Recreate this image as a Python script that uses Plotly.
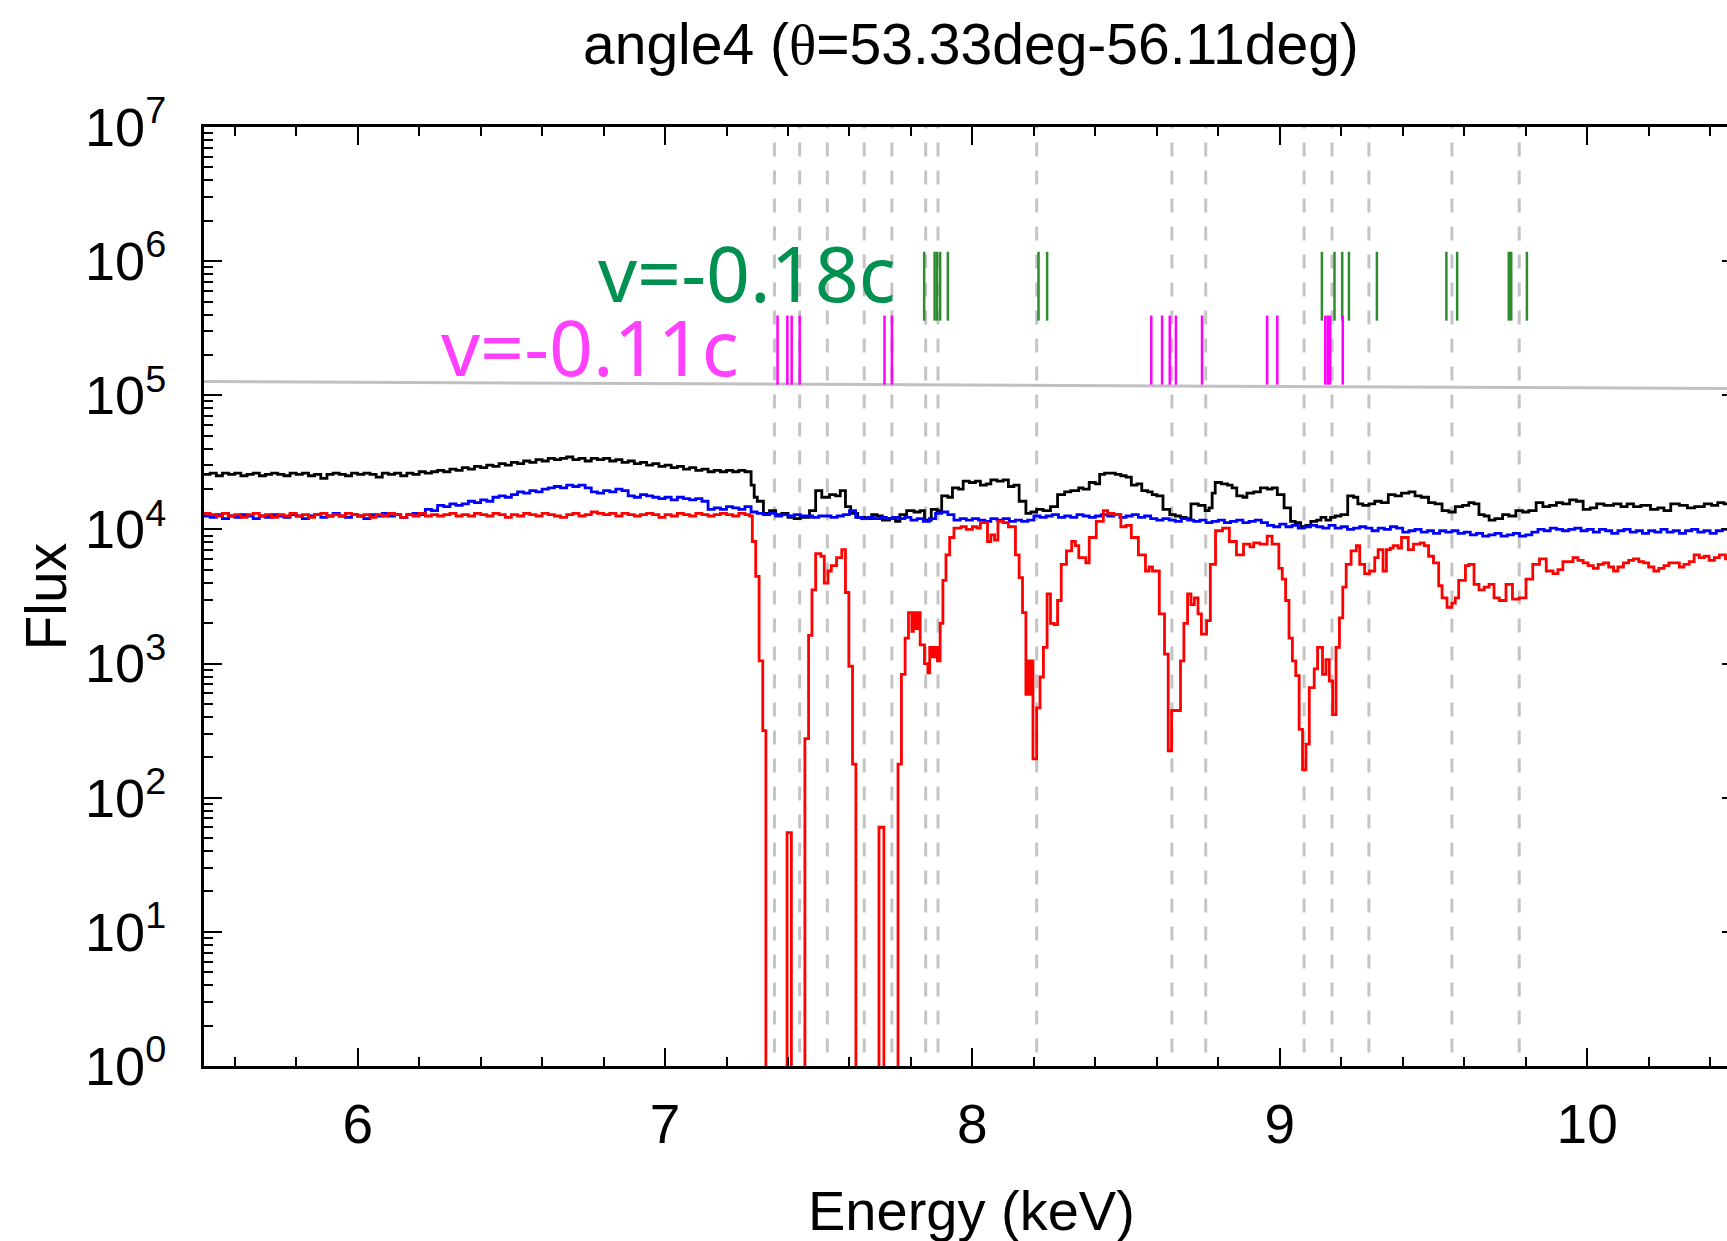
import plotly.graph_objects as go

# ---------------- text ----------------
title_text = "angle4 (<span style='font-family:Liberation Serif'>θ</span>=53.33deg-56.11deg)"
x_title = "Energy (keV)"
y_title = "Flux"
fast_label = "v=-0.18c"
slow_label = "v=-0.11c"

# ---------------- data (bin left edges in keV, log10 flux) ----------------
E_END = 10.47

black_energy = [5.50, 5.52, 5.54, 5.56, 5.58, 5.60, 5.62, 5.64, 5.66, 5.68, 5.70, 5.72, 5.74, 5.76, 5.78,
                5.80, 5.82, 5.84, 5.86, 5.88, 5.90, 5.92, 5.94, 5.96, 5.98, 6.00, 6.02, 6.04, 6.06, 6.08,
                6.10, 6.12, 6.14, 6.16, 6.18, 6.20, 6.22, 6.24, 6.26, 6.28, 6.30, 6.32, 6.34, 6.36, 6.38,
                6.40, 6.42, 6.44, 6.46, 6.48, 6.50, 6.52, 6.54, 6.56, 6.58, 6.60, 6.62, 6.64, 6.66, 6.68,
                6.70, 6.72, 6.74, 6.76, 6.78, 6.80, 6.82, 6.84, 6.86, 6.88, 6.90, 6.92, 6.94, 6.96, 6.98,
                7.00, 7.02, 7.04, 7.06, 7.08, 7.10, 7.12, 7.14, 7.16, 7.18, 7.20, 7.22, 7.24, 7.26, 7.28,
                7.29, 7.30, 7.32, 7.34, 7.36, 7.38, 7.40, 7.42, 7.44, 7.47, 7.49, 7.51, 7.535, 7.555, 7.57,
                7.587, 7.604, 7.627, 7.65, 7.672, 7.69, 7.707, 7.73, 7.75, 7.764, 7.786, 7.81, 7.83, 7.844,
                7.866, 7.885, 7.90, 7.92, 7.935, 7.955, 7.97, 7.99, 8.01, 8.026, 8.045, 8.06, 8.08, 8.10,
                8.117, 8.135, 8.152, 8.174, 8.19, 8.209, 8.23, 8.254, 8.277, 8.30, 8.32, 8.346, 8.36, 8.38,
                8.40, 8.414, 8.43, 8.448, 8.465, 8.483, 8.50, 8.517, 8.535, 8.551, 8.57, 8.585, 8.60, 8.62,
                8.642, 8.66, 8.677, 8.695, 8.711, 8.735, 8.757, 8.77, 8.78, 8.79, 8.81, 8.83, 8.845, 8.86,
                8.88, 8.893, 8.915, 8.937, 8.96, 8.975, 8.992, 9.014, 9.035, 9.05, 9.068, 9.085, 9.101,
                9.12, 9.134, 9.15, 9.165, 9.18, 9.199, 9.221, 9.24, 9.254, 9.27, 9.29, 9.309, 9.33, 9.353,
                9.375, 9.396, 9.42, 9.44, 9.46, 9.484, 9.505, 9.528, 9.55, 9.571, 9.595, 9.615, 9.632,
                9.648, 9.665, 9.681, 9.70, 9.725, 9.745, 9.768, 9.79, 9.81, 9.834, 9.856, 9.878, 9.90,
                9.92, 9.943, 9.965, 9.987, 10.01, 10.031, 10.055, 10.086, 10.11, 10.13, 10.151, 10.175,
                10.206, 10.23, 10.25, 10.272, 10.30, 10.326, 10.35, 10.381, 10.405, 10.425, 10.445]
black_log10_flux = [4.41, 4.42, 4.40, 4.42, 4.41, 4.42, 4.40, 4.41, 4.42, 4.40, 4.41, 4.42, 4.41, 4.40, 4.42,
                    4.41, 4.42, 4.40, 4.41, 4.38, 4.41, 4.42, 4.41, 4.40, 4.42, 4.41, 4.42, 4.41, 4.39, 4.42,
                    4.41, 4.42, 4.40, 4.42, 4.41, 4.43, 4.42, 4.43, 4.44, 4.43, 4.45, 4.44, 4.46, 4.45, 4.47,
                    4.46, 4.48, 4.47, 4.49, 4.48, 4.50, 4.49, 4.51, 4.50, 4.52, 4.51, 4.53, 4.52, 4.53, 4.54,
                    4.52, 4.53, 4.51, 4.53, 4.52, 4.53, 4.51, 4.52, 4.50, 4.51, 4.49, 4.50, 4.48, 4.49, 4.47,
                    4.48, 4.46, 4.47, 4.45, 4.46, 4.44, 4.45, 4.43, 4.44, 4.43, 4.44, 4.43, 4.44, 4.43, 4.33,
                    4.24, 4.21, 4.12, 4.14, 4.11, 4.12, 4.09, 4.08, 4.09, 4.14, 4.29, 4.24, 4.26, 4.25, 4.29,
                    4.17, 4.12, 4.09, 4.08, 4.11, 4.10, 4.07, 4.08, 4.06, 4.11, 4.14, 4.13, 4.14, 4.07,
                    4.15, 4.14, 4.25, 4.24, 4.31, 4.30, 4.36, 4.35, 4.36, 4.33, 4.34, 4.37, 4.36, 4.37,
                    4.32, 4.33, 4.21, 4.12, 4.13, 4.15, 4.14, 4.17, 4.26, 4.28, 4.29, 4.31, 4.30, 4.35,
                    4.34, 4.41, 4.42, 4.42, 4.41, 4.40, 4.39, 4.33, 4.34, 4.29, 4.28, 4.26, 4.25, 4.15,
                    4.11, 4.10, 4.09, 4.08, 4.19, 4.18, 4.14, 4.16, 4.27, 4.35, 4.34, 4.33, 4.31, 4.25,
                    4.24, 4.27, 4.28, 4.31, 4.30, 4.31, 4.26, 4.16, 4.06, 4.05, 4.02, 4.03, 4.06,
                    4.07, 4.09, 4.07, 4.09, 4.10, 4.11, 4.25, 4.24, 4.19, 4.18, 4.19, 4.21, 4.20, 4.26,
                    4.25, 4.27, 4.28, 4.25, 4.24, 4.20, 4.19, 4.14, 4.13, 4.17, 4.18, 4.20, 4.19,
                    4.11, 4.10, 4.07, 4.08, 4.11, 4.10, 4.14, 4.13, 4.14, 4.20, 4.17, 4.18, 4.20,
                    4.19, 4.22, 4.21, 4.15, 4.16, 4.19, 4.18, 4.19, 4.17, 4.19, 4.17, 4.18,
                    4.15, 4.16, 4.14, 4.19, 4.18, 4.16, 4.17, 4.19, 4.18, 4.20, 4.19]

blue_energy = [5.50, 5.52, 5.54, 5.56, 5.58, 5.60, 5.62, 5.64, 5.66, 5.68, 5.70, 5.72, 5.74, 5.76, 5.78,
               5.80, 5.82, 5.84, 5.86, 5.88, 5.90, 5.92, 5.94, 5.96, 5.98, 6.00, 6.02, 6.04, 6.06, 6.08,
               6.10, 6.12, 6.14, 6.16, 6.18, 6.20, 6.22, 6.24, 6.26, 6.28, 6.30, 6.32, 6.34, 6.36, 6.38,
               6.40, 6.42, 6.44, 6.46, 6.48, 6.50, 6.52, 6.54, 6.56, 6.58, 6.60, 6.62, 6.64, 6.66, 6.68,
               6.70, 6.72, 6.74, 6.76, 6.78, 6.80, 6.82, 6.84, 6.86, 6.88, 6.90, 6.92, 6.94, 6.96, 6.98,
               7.00, 7.02, 7.04, 7.06, 7.08, 7.10, 7.12, 7.14, 7.16, 7.18, 7.20, 7.22, 7.24, 7.26, 7.28,
               7.30, 7.32, 7.34, 7.36, 7.38, 7.40, 7.42, 7.44, 7.46, 7.48, 7.50, 7.52, 7.54, 7.56, 7.58,
               7.60, 7.62, 7.64, 7.66, 7.68, 7.70, 7.72, 7.74, 7.76, 7.78, 7.80, 7.82, 7.84, 7.86, 7.88,
               7.90, 7.92, 7.94, 7.96, 7.98, 8.00, 8.02, 8.04, 8.06, 8.08, 8.10, 8.12, 8.14, 8.16, 8.18,
               8.20, 8.22, 8.24, 8.26, 8.28, 8.30, 8.32, 8.34, 8.36, 8.38, 8.40, 8.42, 8.44, 8.46, 8.48,
               8.50, 8.52, 8.54, 8.56, 8.58, 8.60, 8.62, 8.64, 8.66, 8.68, 8.70, 8.72, 8.74, 8.76, 8.78,
               8.80, 8.82, 8.84, 8.86, 8.88, 8.90, 8.92, 8.94, 8.96, 8.98, 9.00, 9.02, 9.04, 9.06, 9.08,
               9.10, 9.12, 9.14, 9.16, 9.18, 9.20, 9.22, 9.24, 9.26, 9.28, 9.30, 9.32, 9.34, 9.36, 9.38,
               9.40, 9.42, 9.44, 9.46, 9.48, 9.50, 9.52, 9.54, 9.56, 9.58, 9.60, 9.62, 9.64, 9.66, 9.68,
               9.70, 9.72, 9.74, 9.76, 9.78, 9.80, 9.82, 9.84, 9.86, 9.88, 9.90, 9.92, 9.94, 9.96, 9.98,
               10.00, 10.02, 10.04, 10.06, 10.08, 10.10, 10.12, 10.14, 10.16, 10.18, 10.20, 10.22, 10.24,
               10.26, 10.28, 10.30, 10.32, 10.34, 10.36, 10.38, 10.40, 10.42, 10.44]
blue_log10_flux = [4.10, 4.09, 4.11, 4.08, 4.10, 4.09, 4.11, 4.10, 4.08, 4.10, 4.09, 4.11, 4.10, 4.09, 4.11,
                   4.10, 4.08, 4.10, 4.11, 4.09, 4.10, 4.12, 4.10, 4.09, 4.11, 4.10, 4.08, 4.11, 4.10, 4.12,
                   4.10, 4.11, 4.09, 4.11, 4.12, 4.11, 4.15, 4.14, 4.18, 4.17, 4.19, 4.18, 4.19, 4.21, 4.20,
                   4.22, 4.21, 4.24, 4.25, 4.24, 4.26, 4.28, 4.27, 4.29, 4.28, 4.30, 4.31, 4.32, 4.31, 4.33,
                   4.32, 4.33, 4.31, 4.28, 4.27, 4.29, 4.28, 4.30, 4.29, 4.25, 4.24, 4.26, 4.25, 4.24, 4.23,
                   4.24, 4.22, 4.24, 4.23, 4.22, 4.23, 4.21, 4.15, 4.16, 4.15, 4.17, 4.16, 4.15, 4.17, 4.13,
                   4.12, 4.11, 4.12, 4.10, 4.11, 4.10, 4.11, 4.10, 4.10, 4.09, 4.10, 4.10, 4.09, 4.10, 4.11,
                   4.14, 4.09, 4.08, 4.09, 4.08, 4.09, 4.08, 4.09, 4.08, 4.09, 4.07, 4.08, 4.06, 4.08, 4.12,
                   4.13, 4.11, 4.07, 4.08, 4.07, 4.08, 4.07, 4.06, 4.08, 4.07, 4.08, 4.06, 4.07, 4.06, 4.07,
                   4.10, 4.09, 4.10, 4.11, 4.09, 4.10, 4.09, 4.11, 4.10, 4.09, 4.10, 4.11, 4.10, 4.11, 4.09,
                   4.10, 4.11, 4.09, 4.10, 4.08, 4.07, 4.08, 4.07, 4.06, 4.08, 4.07, 4.06, 4.07, 4.05, 4.06,
                   4.07, 4.05, 4.06, 4.07, 4.05, 4.06, 4.07, 4.05, 4.03, 4.02, 4.04, 4.02, 4.03, 4.01, 4.02,
                   4.03, 4.02, 4.01, 4.03, 4.01, 4.02, 4.00, 4.01, 4.02, 4.01, 3.99, 4.01, 4.00, 4.02, 4.01,
                   3.98, 3.99, 4.00, 3.98, 3.99, 3.97, 3.99, 3.98, 3.99, 3.97, 3.98, 3.96, 3.97, 3.95, 3.96,
                   3.97, 3.95, 3.96, 3.97, 3.95, 3.96, 3.98, 4.00, 3.99, 4.01, 4.00, 3.99, 4.00, 4.01, 3.99,
                   4.00, 3.98, 4.00, 3.99, 3.97, 3.99, 4.00, 3.98, 3.99, 3.97, 3.99, 3.98, 4.00,
                   3.98, 3.99, 3.97, 3.99, 4.00, 3.98, 3.99, 3.97, 3.99, 4.00]

# -1 marks an empty bin (flux 0, drawn down through the bottom axis)
red_energy = [5.50, 5.52, 5.54, 5.56, 5.58, 5.60, 5.62, 5.64, 5.66, 5.68, 5.70, 5.72, 5.74, 5.76, 5.78,
              5.80, 5.82, 5.84, 5.86, 5.88, 5.90, 5.92, 5.94, 5.96, 5.98, 6.00, 6.02, 6.04, 6.06, 6.08,
              6.10, 6.12, 6.14, 6.16, 6.18, 6.20, 6.22, 6.24, 6.26, 6.28, 6.30, 6.32, 6.34, 6.36, 6.38,
              6.40, 6.42, 6.44, 6.46, 6.48, 6.50, 6.52, 6.54, 6.56, 6.58, 6.60, 6.62, 6.64, 6.66, 6.68,
              6.70, 6.72, 6.74, 6.76, 6.78, 6.80, 6.82, 6.84, 6.86, 6.88, 6.90, 6.92, 6.94, 6.96, 6.98,
              7.00, 7.02, 7.04, 7.06, 7.08, 7.10, 7.12, 7.14, 7.16, 7.18, 7.20, 7.22, 7.24, 7.26, 7.275,
              7.284, 7.295, 7.306, 7.318, 7.328, 7.397, 7.411, 7.455, 7.467, 7.478, 7.490, 7.507, 7.518,
              7.530, 7.541, 7.558, 7.575, 7.587, 7.598, 7.610, 7.621, 7.696, 7.712, 7.758, 7.769, 7.781,
              7.792, 7.803, 7.808, 7.815, 7.821, 7.830, 7.844, 7.855, 7.861, 7.870, 7.878, 7.886, 7.895,
              7.904, 7.914, 7.926, 7.940, 7.963, 7.980, 8.000, 8.015, 8.026, 8.049, 8.060, 8.072, 8.083,
              8.100, 8.117, 8.140, 8.152, 8.163, 8.174, 8.180, 8.186, 8.191, 8.197, 8.209, 8.220, 8.231,
              8.243, 8.254, 8.266, 8.277, 8.289, 8.306, 8.323, 8.335, 8.346, 8.369, 8.380, 8.403, 8.426,
              8.440, 8.460, 8.483, 8.500, 8.517, 8.540, 8.563, 8.575, 8.586, 8.608, 8.625, 8.637, 8.648,
              8.677, 8.688, 8.700, 8.711, 8.722, 8.734, 8.745, 8.762, 8.774, 8.791, 8.814, 8.836, 8.859,
              8.882, 8.903, 8.915, 8.935, 8.959, 8.975, 8.997, 9.008, 9.019, 9.030, 9.041, 9.052, 9.063,
              9.074, 9.085, 9.096, 9.112, 9.123, 9.139, 9.150, 9.161, 9.172, 9.183, 9.194, 9.205, 9.216,
              9.232, 9.249, 9.260, 9.276, 9.292, 9.309, 9.320, 9.336, 9.347, 9.360, 9.369, 9.385, 9.396,
              9.418, 9.435, 9.457, 9.470, 9.484, 9.500, 9.517, 9.528, 9.544, 9.560, 9.571, 9.582, 9.604,
              9.615, 9.632, 9.648, 9.665, 9.681, 9.697, 9.714, 9.736, 9.757, 9.779, 9.801, 9.823, 9.845,
              9.867, 9.889, 9.905, 9.921, 9.954, 9.970, 9.987, 10.003, 10.020, 10.036, 10.053, 10.070,
              10.086, 10.100, 10.118, 10.135, 10.151, 10.168, 10.184, 10.200, 10.217, 10.233, 10.250,
              10.266, 10.282, 10.300, 10.315, 10.332, 10.348, 10.365, 10.381, 10.397, 10.414, 10.430, 10.450]
red_log10_flux = [4.12, 4.11, 4.10, 4.12, 4.10, 4.11, 4.09, 4.11, 4.12, 4.10, 4.11, 4.09, 4.11, 4.10, 4.12,
                  4.10, 4.11, 4.09, 4.11, 4.12, 4.10, 4.11, 4.10, 4.12, 4.11, 4.10, 4.11, 4.09, 4.11, 4.10,
                  4.12, 4.11, 4.09, 4.11, 4.10, 4.12, 4.10, 4.11, 4.10, 4.11, 4.12, 4.10, 4.11, 4.10, 4.12,
                  4.11, 4.10, 4.12, 4.11, 4.09, 4.11, 4.10, 4.12, 4.11, 4.10, 4.12, 4.11, 4.10, 4.09, 4.11,
                  4.12, 4.10, 4.11, 4.13, 4.12, 4.11, 4.12, 4.10, 4.12, 4.11, 4.10, 4.11, 4.12, 4.11, 4.09,
                  4.11, 4.10, 4.12, 4.11, 4.10, 4.12, 4.11, 4.10, 4.11, 4.12, 4.11, 4.10, 4.12, 4.11, 4.10,
                  3.91, 3.65, 3.02, 2.50, -1, 1.74, -1, 2.44, 3.21, 3.55, 3.82, 3.80, 3.60,
                  3.69, 3.73, 3.79, 3.85, 3.53, 2.98, 2.25, -1, 1.78, -1, 2.25, 2.92, 3.19,
                  3.38, 3.24, 3.38, 3.26, 3.38, 3.14, 3.00, 2.93, 3.12, 3.05, 3.12, 3.02, 3.30,
                  3.62, 3.81, 3.94, 4.01, 4.02, 4.00, 4.02, 4.01, 4.05, 3.91, 3.96, 3.92, 4.06,
                  4.05, 4.02, 3.81, 3.64, 3.38, 2.77, 3.02, 2.77, 3.02, 2.29, 2.67, 2.90, 3.12,
                  3.52, 3.30, 3.29, 3.47, 3.74, 3.84, 3.91, 3.88, 3.79, 3.75, 3.94, 4.06, 4.14,
                  4.12, 4.11, 4.02, 4.03, 3.94, 3.81, 3.69, 3.72, 3.69, 3.37, 3.07, 2.35, 2.65,
                  3.02, 3.30, 3.52, 3.44, 3.49, 3.37, 3.22, 3.32, 3.74, 3.99, 4.01, 3.91, 3.81,
                  3.89, 3.87, 3.90, 3.89, 3.95, 3.89, 3.71, 3.63, 3.47, 3.19, 3.02, 2.91, 2.51,
                  2.21, 2.40, 2.82, 2.96, 3.12, 2.92, 3.03, 2.87, 2.62, 3.12, 3.34, 3.57, 3.74,
                  3.84, 3.88, 3.74, 3.67, 3.69, 3.79, 3.85, 3.69, 3.85, 3.86, 3.88, 3.86, 3.94,
                  3.85, 3.89, 3.90, 3.88, 3.80, 3.75, 3.58, 3.49, 3.42, 3.45, 3.49, 3.62, 3.73,
                  3.74, 3.59, 3.55, 3.57, 3.59, 3.49, 3.47, 3.59, 3.48, 3.49, 3.63, 3.74, 3.78,
                  3.69, 3.67, 3.70, 3.76, 3.79, 3.77, 3.75, 3.73, 3.71, 3.74, 3.75, 3.72,
                  3.69, 3.72, 3.75, 3.77, 3.78, 3.76, 3.75, 3.72, 3.69, 3.71, 3.73,
                  3.75, 3.75, 3.72, 3.74, 3.76, 3.81, 3.79, 3.80, 3.77, 3.79, 3.81, 3.78]

# grey continuum model
model_energy = [5.50, 8.00, 10.47]
model_log10_flux = [5.103, 5.077, 5.050]

# dashed reference line energies (keV)
dashed_energy = [7.356, 7.438, 7.528, 7.648, 7.738, 7.848, 7.888, 8.209, 8.649, 8.759,
                 9.079, 9.170, 9.290, 9.560, 9.779]

# line markers for v=-0.18c (green) and v=-0.11c (magenta)
fast_energy = [7.843, 7.877, 7.885, 7.895, 7.920, 8.215, 8.243, 9.137, 9.178, 9.203, 9.225,
               9.316, 9.542, 9.577, 9.745, 9.753, 9.804]
fast_span = [3.6e5, 1.175e6]
slow_energy = [7.366, 7.398, 7.412, 7.438, 7.714, 7.738, 8.582, 8.617, 8.642, 8.662, 8.747,
               8.959, 8.992, 9.148, 9.156, 9.164, 9.205]
slow_span = [1.2e5, 3.93e5]

y_tick_vals = [1, 10, 100, 1e3, 1e4, 1e5, 1e6, 1e7]
y_tick_text = ["10<sup>%d</sup>" % i for i in range(8)]
y_minor_vals = [k * 10 ** n for n in range(7) for k in range(2, 10)]

X_RANGE = [5.5, 10.455]


def step_xy(edges, logs):
    x = list(edges) + [E_END]
    y = [10 ** v for v in logs] + [10 ** logs[-1]]
    return x, y


def vlines(energies, span):
    xs, ys = [], []
    for e in energies:
        xs += [e, e, None]
        ys += [span[1], span[0], None]
    return xs, ys


fig = go.Figure()

dx, dy = vlines(dashed_energy, [0.5, 2e7])
fig.add_trace(go.Scatter(x=dx, y=dy, mode="lines", hoverinfo="skip",
                         line=dict(color="#c4c4c4", width=3, dash="14px,14px")))

fig.add_trace(go.Scatter(x=model_energy, y=[10 ** v for v in model_log10_flux], mode="lines",
                         line=dict(color="#c0c0c0", width=3), hoverinfo="skip"))

for e, l, c in [(black_energy, black_log10_flux, "#000000"),
                (blue_energy, blue_log10_flux, "#0000ff"),
                (red_energy, red_log10_flux, "#ff0000")]:
    x, y = step_xy(e, l)
    fig.add_trace(go.Scatter(x=x, y=y, mode="lines", line=dict(color=c, width=2.8, shape="hv")))

gx, gy = vlines(fast_energy, fast_span)
fig.add_trace(go.Scatter(x=gx, y=gy, mode="lines", line=dict(color="#2e8b2e", width=2.5)))
mx, my = vlines(slow_energy, slow_span)
fig.add_trace(go.Scatter(x=mx, y=my, mode="lines", line=dict(color="#ff00ff", width=2.5)))

# invisible trace for the right-hand tick stubs
fig.add_trace(go.Scatter(x=[7.0], y=[10.0], yaxis="y2", mode="markers",
                         marker=dict(opacity=0), hoverinfo="skip"))

W, H = 1727, 1241
L, R, T, B = 204, 0, 127, 175
pw, ph = W - L - R, H - T - B


def px_x(p):
    return (p - L) / pw


def px_y(p):
    return (H - B - p) / ph


axis_font = dict(family="Liberation Sans, Arial, sans-serif", size=54, color="black")

fig.update_layout(
    width=W, height=H,
    margin=dict(l=L, r=R, t=T, b=B, pad=0),
    paper_bgcolor="white", plot_bgcolor="white",
    showlegend=False,
    xaxis=dict(range=X_RANGE, showgrid=False, zeroline=False,
               showline=True, linecolor="black", linewidth=3, mirror="ticks",
               ticks="inside", ticklen=18, tickwidth=2, tickcolor="black",
               tickvals=[6, 7, 8, 9, 10], ticktext=["6", "7", "8", "9", "10"],
               tickfont=dict(family="Liberation Sans, Arial, sans-serif", size=55, color="black"),
               ticklabelstandoff=8,
               minor=dict(tickmode="linear", tick0=5.0, dtick=0.2, ticks="inside", ticklen=9,
                          tickwidth=2, tickcolor="black", showgrid=False)),
    yaxis=dict(type="log", range=[0, 7], showgrid=False, zeroline=False,
               showline=True, linecolor="black", linewidth=3, mirror=False,
               ticks="inside", ticklen=18, tickwidth=2, tickcolor="black",
               tickvals=y_tick_vals, ticktext=y_tick_text, tickfont=axis_font,
               ticklabelstandoff=24,
               minor=dict(tickmode="array", tickvals=y_minor_vals, ticks="inside", ticklen=9,
                          tickwidth=2, tickcolor="black", showgrid=False)),
    yaxis2=dict(type="log", range=[0, 7], overlaying="y", side="right", anchor="x",
                showgrid=False, zeroline=False, showline=False, showticklabels=False,
                ticks="inside", ticklen=5, tickwidth=2, tickcolor="black", tickvals=y_tick_vals),
    annotations=[
        dict(text=title_text, xref="paper", yref="paper", x=px_x(971), y=px_y(78),
             xanchor="center", yanchor="bottom", showarrow=False,
             font=dict(family="Liberation Sans, Arial, sans-serif", size=57, color="black")),
        dict(text=x_title, xref="paper", yref="paper", x=px_x(972), y=px_y(1210),
             xanchor="center", yanchor="middle", showarrow=False,
             font=dict(family="Liberation Sans, Arial, sans-serif", size=56, color="black")),
        dict(text=y_title, xref="paper", yref="paper", x=px_x(45), y=0.5, textangle=-90,
             xanchor="center", yanchor="middle", showarrow=False,
             font=dict(family="Liberation Sans, Arial, sans-serif", size=57, color="black")),
        dict(text=fast_label, xref="paper", yref="paper", x=px_x(898), y=px_y(272),
             xanchor="right", yanchor="middle", showarrow=False,
             font=dict(family="Noto Sans, sans-serif", size=77, color="#009150")),
        dict(text=slow_label, xref="paper", yref="paper", x=px_x(741), y=px_y(346),
             xanchor="right", yanchor="middle", showarrow=False,
             font=dict(family="Noto Sans, sans-serif", size=77, color="#ff40ff")),
    ],
)

# the page's default body margin would shift the figure; remove it
fig.write_html("out.html", config={"displayModeBar": False},
               post_script="document.body.style.margin='0px';")
